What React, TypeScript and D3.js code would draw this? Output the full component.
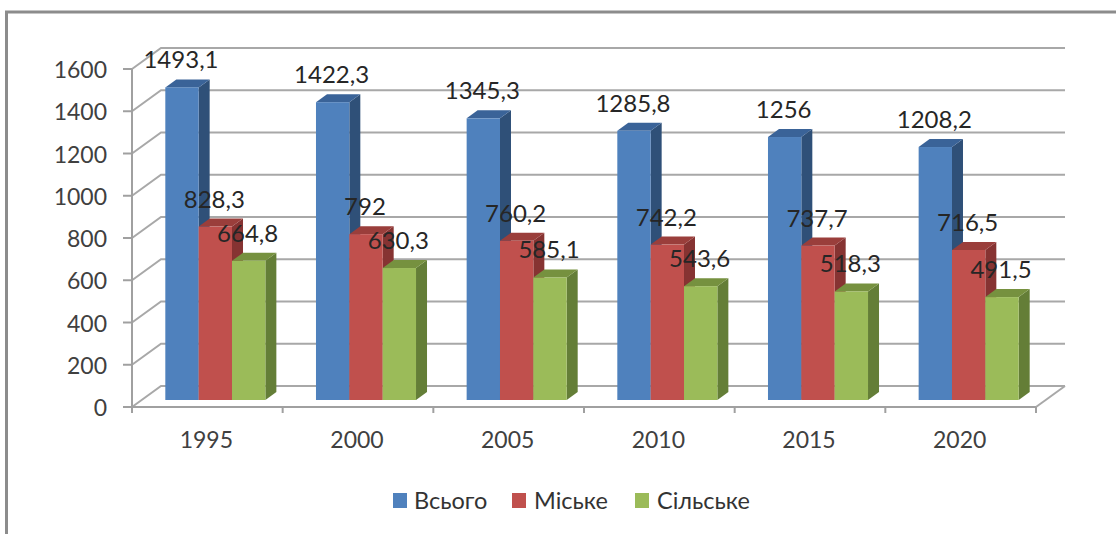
import React from "react";
import * as d3 from "d3";

// Population by settlement type, thousands
const years = ["1995", "2000", "2005", "2010", "2015", "2020"];
const seriesNames = ["Всього", "Міське", "Сільське"];
const totalValues = [1493.1, 1422.3, 1345.3, 1285.8, 1256, 1208.2];
const urbanValues = [828.3, 792, 760.2, 742.2, 737.7, 716.5];
const ruralValues = [664.8, 630.3, 585.1, 543.6, 518.3, 491.5];
const axisTicks = [0, 200, 400, 600, 800, 1000, 1200, 1400, 1600];

const seriesValues = [totalValues, urbanValues, ruralValues];
const faceColors = ["#4F81BD", "#C0504D", "#9BBB59"];
const sideColors = ["#2F5078", "#863332", "#647E37"];
const topColors = ["#3A6398", "#9A3E3B", "#76913F"];

const width = 1116;
const height = 534;
const fontFamily = "Lato, 'Noto Sans', sans-serif";
const gridColor = "#A8A8A8";
const axisColor = "#A0A0A0";

// Floor and wall geometry of the pseudo-3D box
const left = 132;
const right = 1036;
const wallDx = 29;
const wallDy = -21;
const barDx = 8;
const barDepthX = 11;
const barDepthY = -8;

const axisY = d3.scaleLinear().domain([0, 1600]).range([407, 69]);
const barY = d3.scaleLinear().domain([0, 1600]).range([400, 65]);
const groupX = d3.scaleBand<string>().domain(years).range([left, right]).paddingInner(0.336).paddingOuter(0.168);
const seriesX = d3.scaleBand<string>().domain(seriesNames).range([0, groupX.bandwidth()]);

const polygon = d3.line<[number, number]>();
const fmt = (v: number) => String(v).replace(".", ",");

const legendItems = [
  { square: 393, text: 414 },
  { square: 512, text: 534 },
  { square: 635, text: 657 },
];

export default function App() {
  return (
    <svg
      width={width}
      height={height}
      viewBox={`0 0 ${width} ${height}`}
      style={{ position: "absolute", left: 0, top: 0, background: "#fff" }}
      fontFamily={fontFamily}
    >
      {/* Chart frame: only its top and left edges are in view */}
      <path d={`M6.5,534V12H${width}`} fill="none" stroke="#8C8C8C" strokeWidth={3} />

      {/* Back-wall gridlines and side-wall diagonals */}
      {axisTicks.map((t) => (
        <g key={t} fill="none" stroke={gridColor} strokeWidth={2}>
          <path d={`M${left},${axisY(t)}L${left + wallDx},${axisY(t) + wallDy}H${right + wallDx}`} />
        </g>
      ))}
      <path
        d={`M${right},${axisY(0)}L${right + wallDx},${axisY(0) + wallDy}`}
        fill="none"
        stroke={gridColor}
        strokeWidth={2}
      />

      {/* Value axis */}
      <path d={`M${left},${axisY(1600)}V${axisY(0) + 6}`} stroke={axisColor} strokeWidth={2} fill="none" />
      {axisTicks.map((t) => (
        <g key={t}>
          <line x1={left - 9} x2={left} y1={axisY(t)} y2={axisY(t)} stroke={axisColor} strokeWidth={2} />
          <text x={107} y={axisY(t) + 9} textAnchor="end" fontSize={23} fill="#404040">
            {t}
          </text>
        </g>
      ))}

      {/* Category axis */}
      <line x1={left} x2={right} y1={axisY(0)} y2={axisY(0)} stroke={axisColor} strokeWidth={2} />
      {d3.range(years.length + 1).map((i) => {
        const x = left + (i * (right - left)) / years.length;
        return <line key={i} x1={x} x2={x} y1={axisY(0)} y2={axisY(0) + 6} stroke={axisColor} strokeWidth={2} />;
      })}
      {years.map((y) => (
        <text
          key={y}
          x={(groupX(y) as number) + groupX.bandwidth() / 2 - 1}
          y={448}
          textAnchor="middle"
          fontSize={23}
          fill="#404040"
        >
          {y}
        </text>
      ))}

      {/* Bars with their side and top faces */}
      {years.map((year, yi) =>
        seriesNames.map((name, si) => {
          const x0 = (groupX(year) as number) + barDx + (seriesX(name) as number);
          const x1 = x0 + seriesX.bandwidth();
          const top = barY(seriesValues[si][yi]);
          const base = barY(0);
          const side: [number, number][] = [
            [x1, top],
            [x1 + barDepthX, top + barDepthY],
            [x1 + barDepthX, base + barDepthY],
            [x1, base],
          ];
          const cap: [number, number][] = [
            [x0, top],
            [x0 + barDepthX, top + barDepthY],
            [x1 + barDepthX, top + barDepthY],
            [x1, top],
          ];
          return (
            <g key={`${year}-${name}`}>
              <path d={`${polygon(side)}Z`} fill={sideColors[si]} />
              <path d={`${polygon(cap)}Z`} fill={topColors[si]} />
              <rect x={x0} y={top} width={x1 - x0} height={base - top} fill={faceColors[si]} />
            </g>
          );
        })
      )}

      {/* Value labels sit above every bar */}
      {years.map((year, yi) =>
        seriesNames.map((name, si) => {
          const cx = (groupX(year) as number) + barDx + (seriesX(name) as number) + seriesX.bandwidth() / 2;
          return (
            <text
              key={`${year}-${name}-label`}
              x={cx - 1}
              y={barY(seriesValues[si][yi]) - 19}
              textAnchor="middle"
              fontSize={24}
              fill="#262626"
            >
              {fmt(seriesValues[si][yi])}
            </text>
          );
        })
      )}

      {/* Legend */}
      {seriesNames.map((name, si) => (
        <g key={name}>
          <rect x={legendItems[si].square} y={493} width={14} height={15} fill={faceColors[si]} />
          <text x={legendItems[si].text} y={509} fontSize={23.5} fill="#333">
            {name}
          </text>
        </g>
      ))}
    </svg>
  );
}
